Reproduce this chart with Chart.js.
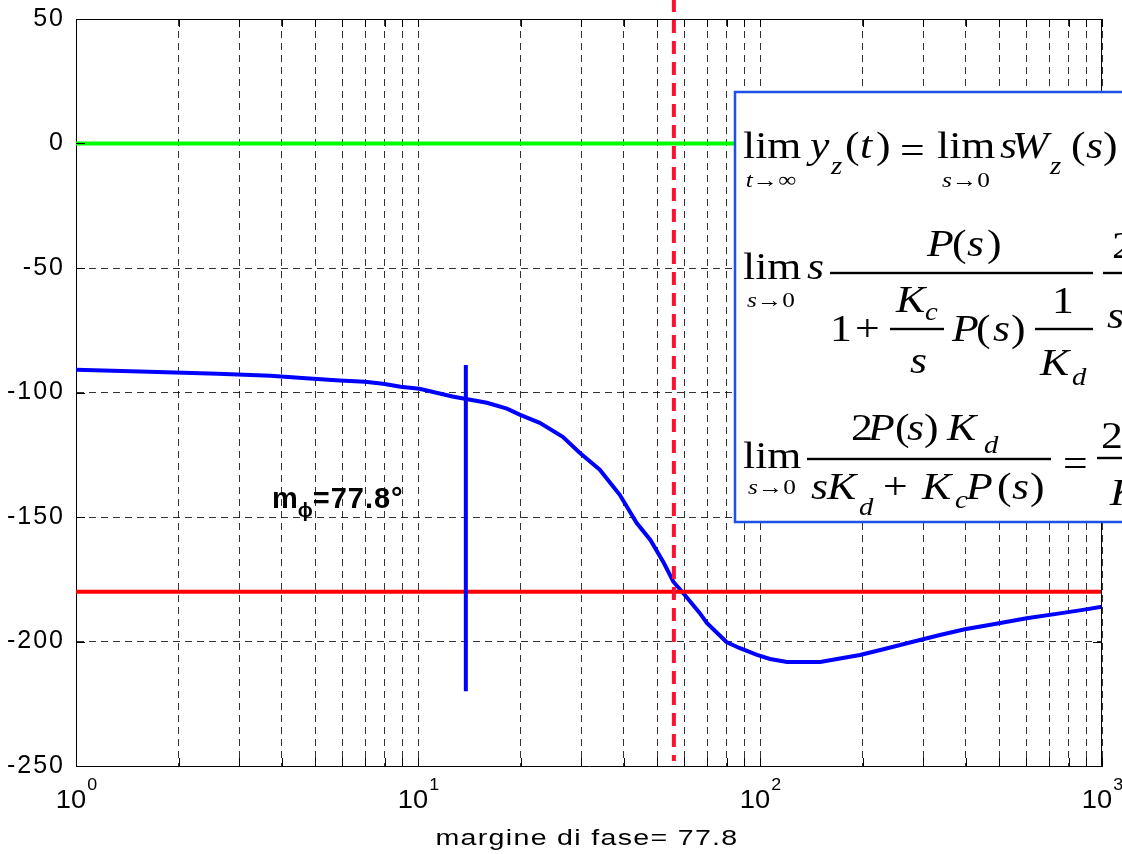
<!DOCTYPE html>
<html><head><meta charset="utf-8">
<script src="https://cdn.jsdelivr.net/npm/chart.js@4/dist/chart.umd.min.js"></script>
<style>html,body{margin:0;padding:0;background:#fff;overflow:hidden}</style>
</head><body>
<canvas id="c" width="1122" height="854"></canvas>
<script>
// ---- data ----
const freq  = [1, 1.54, 2.6, 3.7, 4.7, 5.9, 7.0, 7.9, 8.9, 10.1, 12.6, 15.9, 18.2, 19.9, 22.7, 26.5, 29.7, 34.0, 38.9, 43.6, 47.8, 52.3, 55.8, 59.6, 66.6, 69.9, 79.8, 87, 98, 107, 120, 150, 168, 196, 225, 280, 336, 397, 486, 602, 753, 880, 1000];
const phase = [-90.9, -91.6, -92.5, -93.3, -94.3, -95.2, -95.7, -96.5, -97.7, -98.5, -101.6, -104.1, -106.5, -109, -112.2, -117.8, -124.2, -131, -141.1, -152.4, -159.2, -168.4, -176, -180.5, -188.5, -192.5, -200.2, -202.6, -205.4, -207, -208.2, -208.2, -207, -205.4, -203.4, -200.1, -197.4, -195.1, -193, -190.7, -188.7, -187.3, -186];
const zeroLineX = [1, 1000],  zeroLineY = [0, 0];
const piLineX   = [1, 1000],  piLineY   = [-180, -180];
const crossX    = [56, 56],   crossY    = [58, -248];
const marginX   = [13.8, 13.8], marginY = [-89, -220];
const yTickValues = [-250, -200, -150, -100, -50, 0, 50];
const xTickValues = [1, 10, 100, 1000];
const xTickBase = ['10', '10', '10', '10'];
const xTickExponents = ['0', '1', '2', '3'];
const xAxisTitle = 'margine di fase= 77.8';
const annotMain = 'm', annotSub = 'ϕ', annotRest = '=77.8°';
const annotX = 3.74, annotY = -146.3;

const pts = (xs, ys) => xs.map((x, i) => ({x, y: ys[i]}));
const xGrid = [];
for (let e = 0; e < 3; e++) for (let m = 1; m <= 9; m++) xGrid.push(m * Math.pow(10, e));
xGrid.push(1000);

const SANS = '"Liberation Sans", Arial, Helvetica, sans-serif';
const SERIF = '"Liberation Serif", "Times New Roman", serif';
const SX = 1.15;

function tx(ctx, s, x, y, size, it) {
  ctx.font = (it ? 'italic ' : '') + size + 'px ' + SERIF;
  ctx.save(); ctx.translate(x, y); ctx.scale(SX, 1); ctx.fillText(s, 0, 0); ctx.restore();
}
function subCentered(ctx, runs, cx, y, size) {
  let w = 0;
  runs.forEach(r => { ctx.font = (r[1] ? 'italic ' : '') + size + 'px ' + SERIF; w += ctx.measureText(r[0]).width * SX; });
  let x = cx - w / 2;
  runs.forEach(r => { tx(ctx, r[0], x, y, size, r[1]); x += ctx.measureText(r[0]).width * SX; });
}
function bar(ctx, x1, x2, y) { ctx.fillRect(x1, y - 1.2, x2 - x1, 2.4); }
function stretchText(ctx, s, x, y, sx, align) {
  const w = ctx.measureText(s).width * sx;
  const x0 = align === 'center' ? x - w / 2 : x;
  ctx.save(); ctx.translate(x0, y); ctx.scale(sx, 1); ctx.textAlign = 'left'; ctx.fillText(s, 0, 0); ctx.restore();
  return w;
}

const F = 38, S = 25, L = 22;
const tokens = [
  // line 1
  ['lim',743,158,F,0], ['y',810,158,F,1], ['z',831,174,S,1], ['(',845,158,F,0], ['t',860,158,F,1], [')',876,158,F,0],
  ['=',900,163,F,0], ['lim',937,158,F,0], ['s',1000,158,F,1], ['W',1012,158,F,1], ['z',1050,174,S,1],
  ['(',1071,158,F,0], ['s',1086,158,F,1], [')',1103,158,F,0],
  // line 2
  ['lim',743,279,F,0], ['s',807,279,F,1],
  ['P',927,256,F,1], ['(',952,256,F,0], ['s',967,256,F,1], [')',987,256,F,0],
  ['1',830,341,F,0], ['+',855,341,F,0], ['K',896,312,F,1], ['c',925,320,S,1], ['s',910,373,F,1],
  ['P',952,341,F,1], ['(',976,341,F,0], ['s',993,341,F,1], [')',1011,341,F,0],
  ['1',1052,313,F,0], ['K',1040,375,F,1], ['d',1072,385,S,1],
  ['2',1112,258,F,0], ['s',1107,328,F,1],
  // line 3
  ['lim',743,468,F,0],
  ['2',851,440,F,0], ['P',868,440,F,1], ['(',895,440,F,0], ['s',907,440,F,1], [')',924,440,F,0], ['K',947,440,F,1], ['d',984,453,S,1],
  ['s',811,499,F,1], ['K',827,499,F,1], ['d',859,515,S,1], ['+',883,499,F,0], ['K',922,499,F,1], ['c',955,508,S,1],
  ['P',966,499,F,1], ['(',997,499,F,0], ['s',1012,499,F,1], [')',1030,499,F,0],
  ['=',1063,476,F,0], ['2',1101,448,F,0], ['K',1110,505,F,1]
];
const subs = [
  [[['t',1],['→∞',0]], 771, 187],
  [[['s',1],['→0',0]], 966, 187],
  [[['s',1],['→0',0]], 771, 307],
  [[['s',1],['→0',0]], 772, 494]
];
const bars = [[830,1093,273],[890,944,329],[1035,1093,329],[1103,1140,273],[807,1051,459],[1097,1140,458]];

const overlay = {
  id: 'overlay',
  beforeDraw(chart) { chart.ctx.letterSpacing = '2px'; },
  afterDraw(chart) {
    const ctx = chart.ctx, a = chart.chartArea, xs = chart.scales.x, ys = chart.scales.y;
    ctx.save();
    ctx.letterSpacing = '0px';
    ctx.setLineDash([]);
    ctx.strokeStyle = '#000'; ctx.lineWidth = 1;
    ctx.beginPath();
    ctx.moveTo(a.left, Math.round(a.top) + 0.5); ctx.lineTo(a.right, Math.round(a.top) + 0.5);
    ctx.moveTo(Math.round(a.right) - 0.5, a.top); ctx.lineTo(Math.round(a.right) - 0.5, a.bottom);
    xs.ticks.forEach(t => {
      const px = Math.round(xs.getPixelForValue(t.value)) + 0.5;
      ctx.moveTo(px, a.bottom); ctx.lineTo(px, a.bottom - 8);
      ctx.moveTo(px, a.top); ctx.lineTo(px, a.top + 8);
    });
    ys.ticks.forEach(t => {
      const py = Math.round(ys.getPixelForValue(t.value)) + 0.5;
      ctx.moveTo(a.left, py); ctx.lineTo(a.left + 9, py);
      ctx.moveTo(a.right, py); ctx.lineTo(a.right - 9, py);
    });
    ctx.stroke();

    // x tick labels with superscripts
    ctx.fillStyle = '#000'; ctx.textBaseline = 'alphabetic'; ctx.textAlign = 'left';
    xTickValues.forEach((v, i) => {
      const px = xs.getPixelForValue(v);
      ctx.font = '26px ' + SANS; const w1 = ctx.measureText(xTickBase[i]).width * 1.05;
      ctx.font = '17px ' + SANS; const w2 = ctx.measureText(xTickExponents[i]).width * 1.05;
      const x0 = px - (w1 + w2) / 2;
      ctx.font = '26px ' + SANS; stretchText(ctx, xTickBase[i], x0, a.bottom + 42, 1.05);
      ctx.font = '17px ' + SANS; stretchText(ctx, xTickExponents[i], x0 + w1 + 1, a.bottom + 24, 1.05);
    });
    // x axis title
    ctx.letterSpacing = '1px';
    ctx.font = '22px ' + SANS;
    stretchText(ctx, xAxisTitle, (a.left + a.right) / 2 - 2, a.bottom + 79, 1.3, 'center');
    // annotation m_phi
    ctx.letterSpacing = '1px';
    let ax = xs.getPixelForValue(annotX), ay = ys.getPixelForValue(annotY);
    ctx.font = 'bold 29px ' + SANS; ax += stretchText(ctx, annotMain, ax, ay, 1.0) - 1;
    ctx.letterSpacing = '0px';
    ctx.font = 'bold 20px ' + SANS; ax += stretchText(ctx, annotSub, ax, ay + 9, 1.0);
    ctx.letterSpacing = '1px';
    ctx.font = 'bold 29px ' + SANS; stretchText(ctx, annotRest, ax, ay, 1.0);

    // formula box
    ctx.letterSpacing = '0px';
    ctx.fillStyle = '#fff';
    ctx.fillRect(735, 92, 420, 430);
    ctx.strokeStyle = 'rgb(30,80,230)'; ctx.lineWidth = 2.5;
    ctx.strokeRect(735, 92, 420, 430);
    ctx.fillStyle = '#000';
    tokens.forEach(t => tx(ctx, t[0], t[1], t[2], t[3], t[4]));
    subs.forEach(s => subCentered(ctx, s[0], s[1], s[2], L));
    bars.forEach(b => bar(ctx, b[0], b[1], b[2]));
    ctx.restore();
  }
};

const gridCfg = { color: 'rgba(0,0,0,0.8)', lineWidth: 1, drawTicks: false };
const borderCfg = { display: true, color: '#000', width: 1, dash: [7, 5] };

new Chart(document.getElementById('c'), {
  type: 'line',
  data: { datasets: [
    { label: 'margin', data: pts(marginX, marginY), borderColor: '#0000ff', borderWidth: 4, pointRadius: 0, tension: 0 },
    { label: 'crossover', data: pts(crossX, crossY), borderColor: '#ff1030', borderWidth: 4, borderDash: [13, 8], pointRadius: 0, clip: false },
    { label: '-180', data: pts(piLineX, piLineY), borderColor: '#ff0000', borderWidth: 4, pointRadius: 0 },
    { label: '0', data: pts(zeroLineX, zeroLineY), borderColor: '#00ff00', borderWidth: 4, pointRadius: 0 },
    { label: 'phase', data: pts(freq, phase), borderColor: '#0000ff', borderWidth: 4, pointRadius: 0, tension: 0 }
  ]},
  options: {
    responsive: false, devicePixelRatio: 1, animation: false,
    layout: { padding: { top: 19, right: 20, left: 0, bottom: 0 } },
    plugins: { legend: { display: false }, tooltip: { enabled: false } },
    scales: {
      x: {
        type: 'logarithmic', min: 1, max: 1000, position: 'bottom',
        afterBuildTicks: s => { s.ticks = xGrid.map(v => ({ value: v, major: xTickValues.includes(v) })); },
        ticks: { display: false },
        grid: gridCfg, border: borderCfg,
        afterFit: s => { s.height = 88; s.paddingLeft = 0; s.paddingRight = 0; }
      },
      y: {
        type: 'linear', min: -250, max: 50,
        afterBuildTicks: s => { s.ticks = yTickValues.map(v => ({ value: v })); },
        ticks: { color: '#000', font: { family: SANS, size: 25 }, padding: 11 },
        grid: gridCfg, border: borderCfg,
        afterFit: s => { s.width = 76; s.paddingTop = 0; s.paddingBottom = 0; }
      }
    }
  },
  plugins: [overlay]
});
</script>
</body></html>
